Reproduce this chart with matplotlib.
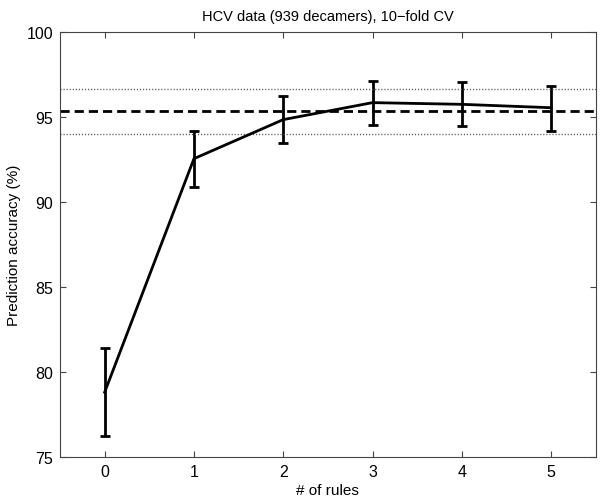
import matplotlib
matplotlib.use('Agg')
import matplotlib.pyplot as plt
import numpy as np

plt.rcParams['font.family'] = ['Liberation Sans', 'DejaVu Sans']

# Data
n_rules = [0, 1, 2, 3, 4, 5]
accuracy = [78.8, 92.55, 94.85, 95.85, 95.75, 95.55]
err_low = [2.6, 1.65, 1.4, 1.3, 1.3, 1.35]
err_high = [2.6, 1.65, 1.4, 1.3, 1.3, 1.3]
baseline = 95.35
baseline_band = [94.0, 96.68]

fig = plt.figure(figsize=(6.0, 5.02), dpi=100)
ax = fig.add_axes([0.1, 0.088, 0.893, 0.846])

ax.errorbar(n_rules, accuracy, yerr=[err_low, err_high], color='black',
            linewidth=2, elinewidth=2, capsize=3.5, capthick=2)
ax.axhline(baseline, color='black', linestyle=(0, (3.3, 1.8)), linewidth=2)
for b in baseline_band:
    ax.axhline(b, color='#555555', linestyle=(0, (0.8, 1.4)), linewidth=1.0)

ax.set_xlim(-0.5, 5.5)
ax.set_ylim(75, 100)
ax.set_xticks(n_rules)
ax.set_yticks([75, 80, 85, 90, 95, 100])
ax.tick_params(direction='in', top=True, right=True, labelsize=11.5,
               length=4, color='#444444', width=0.8, pad=5)
for s in ax.spines.values():
    s.set_color('#444444')
    s.set_linewidth(0.8)

ax.set_xlabel('# of rules', fontsize=11, labelpad=3)
ax.set_ylabel('Prediction accuracy (%)', fontsize=11, labelpad=4)
ax.set_title('HCV data (939 decamers), 10\u2212fold CV', fontsize=10.5, pad=9)

fig.savefig('out.png', dpi=100)
